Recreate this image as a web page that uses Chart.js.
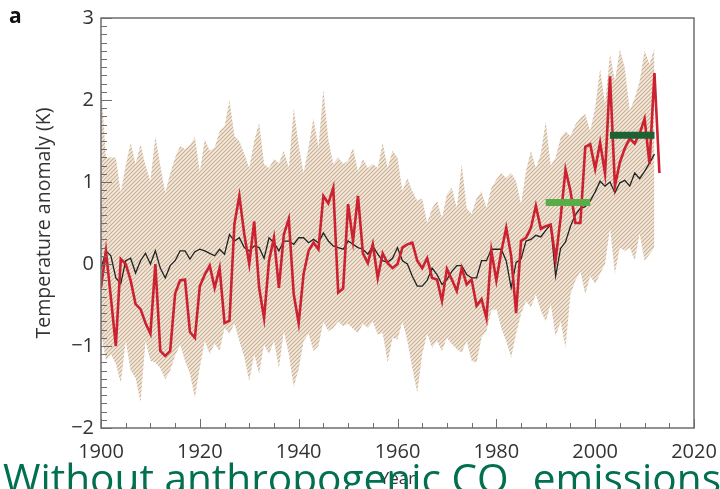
<!DOCTYPE html>
<html>
<head>
<meta charset="utf-8">
<script src="https://cdn.jsdelivr.net/npm/chart.js@4.4.1/dist/chart.umd.min.js"></script>
<style>
  html, body { margin: 0; padding: 0; background: #fff; overflow: hidden; }
  #wrap { position: relative; width: 720px; height: 489px; }
  #panel { position: absolute; left: 9px; top: 5px; font: bold 21px "Open Sans", sans-serif; line-height: 1; color: #111; }
  #caption { position: absolute; left: 3px; top: 457px; font: 41px "Open Sans", sans-serif; line-height: 1;
             color: #007050; white-space: nowrap; transform-origin: 0 0; }
  #caption sub { font-size: 24px; vertical-align: -16px; line-height: 0; }
</style>
</head>
<body>
<div id="wrap">
  <canvas id="tempChart" width="720" height="489"></canvas>
  <div id="panel">a</div>
  <div id="caption">Without anthropogenic CO<sub>2</sub> emissions</div>
</div>
<script>
// First year of every series (one value per year)
const firstYear = 1900;

// Observed anomaly, red line, 1900-2013
const observed = [
  -0.29, 0.16, -0.41, -1.0, 0.06, 0.0, -0.2, -0.49, -0.55, -0.72,
  -0.85, 0.0, -1.06, -1.12, -1.06, -0.36, -0.2, -0.19, -0.83, -0.9,
  -0.27, -0.13, -0.02, -0.29, -0.05, -0.72, -0.69, 0.49, 0.83, 0.36,
  0.0, 0.52, -0.29, -0.66, 0.04, 0.32, -0.29, 0.36, 0.55, -0.37,
  -0.72, -0.12, 0.16, 0.26, 0.18, 0.83, 0.74, 0.93, -0.35, -0.3,
  0.73, 0.28, 0.83, 0.13, 0.01, 0.24, -0.17, 0.13, 0.01, -0.05,
  0.0, 0.2, 0.24, 0.26, 0.04, -0.05, 0.07, -0.17, -0.19, -0.45,
  -0.06, -0.19, -0.33, -0.05, -0.25, -0.19, -0.51, -0.43, -0.66, 0.16,
  -0.2, 0.15, 0.44, 0.1, -0.6, 0.28, 0.32, 0.44, 0.71, 0.43,
  0.46, 0.48, 0.05, 0.56, 1.15, 0.89, 0.5, 0.5, 1.43, 1.46,
  1.16, 1.48, 1.1, 2.29, 0.95, 1.24, 1.41, 1.53, 1.47, 1.59,
  1.77, 1.22, 2.33, 1.11
];

// Model mean, black line, 1900-2012
const modelMean = [
  -0.06, 0.16, 0.1, -0.17, -0.24, 0.04, 0.07, -0.11, 0.04, 0.13,
  0.0, 0.16, -0.05, -0.17, -0.02, 0.04, 0.16, 0.16, 0.06, 0.15,
  0.18, 0.16, 0.13, 0.1, 0.18, 0.12, 0.36, 0.28, 0.32, 0.2,
  0.16, 0.22, 0.2, 0.07, 0.32, 0.26, 0.16, 0.28, 0.28, 0.24,
  0.32, 0.32, 0.26, 0.3, 0.26, 0.38, 0.28, 0.22, 0.2, 0.18,
  0.28, 0.24, 0.2, 0.18, 0.12, 0.22, 0.12, 0.04, 0.02, 0.07,
  0.2, 0.04, 0.0, -0.15, -0.27, -0.27, -0.2, -0.05, -0.13, -0.25,
  -0.19, -0.09, -0.02, -0.02, -0.13, -0.17, -0.17, 0.04, 0.04, 0.18,
  0.18, 0.18, 0.04, -0.29, 0.02, 0.06, 0.28, 0.3, 0.35, 0.33,
  0.41, 0.48, -0.15, 0.19, 0.27, 0.46, 0.6, 0.68, 0.7, 0.77,
  0.88, 1.01, 0.95, 1.0, 0.87, 0.99, 1.02, 0.95, 1.11, 1.04,
  1.13, 1.23, 1.34
];

// Ensemble spread, hatched band, 1900-2012
const spreadUpper = [
  2.2, 1.3, 1.3, 1.3, 0.87, 1.2, 1.48, 1.22, 1.46, 1.2,
  1.01, 1.56, 1.2, 0.87, 1.1, 1.3, 1.44, 1.4, 1.45, 1.55,
  1.12, 1.52, 1.38, 1.42, 1.62, 1.68, 2.0, 1.56, 1.5, 1.34,
  1.17, 1.5, 1.72, 1.22, 1.17, 1.28, 1.23, 1.38, 1.17, 1.9,
  1.45, 1.11, 1.42, 1.78, 1.42, 2.13, 1.52, 1.22, 1.3, 1.22,
  1.26, 1.42, 1.13, 1.28, 1.17, 1.22, 1.17, 1.48, 1.17, 1.38,
  1.3, 0.89, 1.05, 0.89, 0.77, 0.8, 0.5, 0.68, 0.77, 0.56,
  0.85, 0.93, 0.68, 1.22, 0.68, 0.61, 0.8, 0.89, 0.68, 0.93,
  1.03, 1.11, 1.05, 1.11, 1.01, 0.73, 1.13, 1.38, 1.17, 1.34,
  1.74, 1.2, 1.3, 1.54, 1.62, 1.56, 1.7, 1.78, 1.83, 1.62,
  1.91, 2.38, 1.95, 2.56, 2.23, 2.62, 2.39, 1.87, 2.02, 2.23,
  2.6, 2.44, 2.63
];
const spreadLower = [
  -0.82, -1.18, -1.1, -1.22, -1.45, -0.94, -1.3, -1.39, -1.69, -0.94,
  -1.18, -1.2, -1.27, -1.41, -1.3, -1.12, -0.98, -1.18, -1.34, -1.63,
  -1.26, -0.94, -1.1, -0.97, -1.06, -0.78, -0.85, -0.73, -0.94, -1.14,
  -1.43, -1.1, -1.34, -0.98, -1.1, -0.94, -1.27, -0.82, -1.1, -1.5,
  -1.28, -0.94, -0.85, -1.06, -1.0, -0.7, -0.82, -0.78, -0.7, -0.76,
  -0.73, -0.79, -0.84, -0.73, -0.78, -0.7, -0.86, -0.84, -1.2, -0.9,
  -0.92, -0.7, -0.94, -1.27, -1.57, -1.1, -0.85, -1.02, -0.94, -1.06,
  -0.9, -0.98, -1.04, -1.08, -0.94, -1.18, -1.2, -0.9, -0.82, -0.57,
  -0.55, -0.78, -0.94, -1.14, -0.85, -0.61, -0.45, -0.53, -0.37, -0.57,
  -0.7, -0.49, -0.88, -0.7, -1.02, -0.37, -0.2, -0.09, -0.37, -0.15,
  -0.24, -0.12, 0.0, 0.44, -0.12, 0.2, 0.16, 0.2, 0.04, 0.37,
  0.04, 0.12, 0.2
];

// Decade mean bars (start year, end year, value)
const lightBarYears = [1990, 1999];
const lightBarValue = 0.75;
const darkBarYears = [2003, 2012];
const darkBarValue = 1.57;

// Axis ticks
const xTicks = [1900, 1920, 1940, 1960, 1980, 2000, 2020];
const yTicks = [-2, -1, 0, 1, 2, 3];

const toPoints = (values) => values.map((v, i) => ({ x: firstYear + i, y: v }));
const barPoints = (years, value) => years.map(yr => ({ x: yr, y: value }));

// Diagonal hatch for the spread band
function makeHatch() {
    const size = 4;
    const c = document.createElement("canvas");
    c.width = size;
    c.height = size;
    const g = c.getContext("2d");
    g.fillStyle = "#f3eade";
    g.fillRect(0, 0, size, size);
    g.strokeStyle = "#cbad92";
    g.lineWidth = 1.1;
    g.beginPath();
    g.moveTo(-1, size + 1); g.lineTo(size + 1, -1);
    g.moveTo(-1, 1); g.lineTo(1, -1);
    g.moveTo(size - 1, size + 1); g.lineTo(size + 1, size - 1);
    g.stroke();
    return g.createPattern(c, "repeat");
}

// Inward tick marks and the plot frame
const frameTicks = {
    id: "frameTicks",
    afterDatasetsDraw(chart) {
        const { ctx, chartArea: a, scales: { x, y } } = chart;
        ctx.save();
        ctx.strokeStyle = "#6e6e6e";
        ctx.lineWidth = 1;
        ctx.beginPath();
        for (let i = -20; i <= 30; i++) {
            const py = Math.round(y.getPixelForValue(i / 10)) + 0.5;
            const len = i % 10 === 0 ? 11 : 6;
            ctx.moveTo(a.left, py);
            ctx.lineTo(a.left + len, py);
        }
        for (let yr = 1900; yr <= 2020; yr += 5) {
            const px = Math.round(x.getPixelForValue(yr)) + 0.5;
            const len = yr % 20 === 0 ? 9 : 5;
            ctx.moveTo(px, a.bottom);
            ctx.lineTo(px, a.bottom - len);
        }
        ctx.stroke();
        ctx.lineWidth = 1.5;
        ctx.strokeRect(a.left, a.top, a.right - a.left, a.bottom - a.top);
        ctx.restore();
    }
};

const tickFont = { family: "'Open Sans', sans-serif", size: 20 };

new Chart(document.getElementById("tempChart").getContext("2d"), {
    type: "line",
    data: {
        datasets: [
            {
                label: "1990s mean",
                data: barPoints(lightBarYears, lightBarValue),
                borderColor: "#5aac48",
                borderWidth: 7,
                borderCapStyle: "butt",
                pointRadius: 0,
                fill: false,
                order: 0
            },
            {
                label: "2000s mean",
                data: barPoints(darkBarYears, darkBarValue),
                borderColor: "#1e6132",
                borderWidth: 7,
                borderCapStyle: "butt",
                pointRadius: 0,
                fill: false,
                order: 0
            },
            {
                label: "Observed",
                data: toPoints(observed),
                borderColor: "#cb2131",
                borderWidth: 2.6,
                pointRadius: 0,
                tension: 0,
                fill: false,
                order: 1
            },
            {
                label: "Model mean",
                data: toPoints(modelMean),
                borderColor: "#222222",
                borderWidth: 1.3,
                pointRadius: 0,
                tension: 0,
                fill: false,
                order: 2
            },
            {
                label: "Spread upper",
                data: toPoints(spreadUpper),
                borderWidth: 0,
                borderColor: "rgba(0,0,0,0)",
                backgroundColor: makeHatch(),
                pointRadius: 0,
                fill: "+1",
                order: 3
            },
            {
                label: "Spread lower",
                data: toPoints(spreadLower),
                borderWidth: 0,
                borderColor: "rgba(0,0,0,0)",
                pointRadius: 0,
                fill: false,
                order: 4
            }
        ]
    },
    options: {
        responsive: false,
        animation: false,
        layout: { padding: { top: 18, right: 26, left: 0, bottom: 0 } },
        plugins: {
            legend: { display: false },
            tooltip: { enabled: false }
        },
        scales: {
            x: {
                type: "linear",
                min: 1900,
                max: 2020,
                afterFit: (s) => { s.height = 61; s.paddingLeft = 0; s.paddingRight = 0; },
                afterBuildTicks: (s) => { s.ticks = xTicks.map(v => ({ value: v })); },
                grid: { display: false, drawTicks: false },
                border: { display: false },
                ticks: {
                    padding: 12,
                    color: "#333333",
                    font: tickFont,
                    maxRotation: 0,
                    callback: (v) => String(v)
                },
                title: {
                    display: true,
                    text: "Year",
                    color: "#333333",
                    font: { family: "'Open Sans', sans-serif", size: 17 },
                    padding: { top: 0, bottom: 0 }
                }
            },
            y: {
                min: -2,
                max: 3,
                afterFit: (s) => { s.width = 101; s.paddingTop = 0; s.paddingBottom = 0; },
                afterBuildTicks: (s) => { s.ticks = yTicks.map(v => ({ value: v })); },
                grid: { display: false, drawTicks: false },
                border: { display: false },
                ticks: {
                    padding: 7,
                    color: "#333333",
                    font: tickFont,
                    callback: (v) => String(v).replace("-", "\u2212")
                },
                title: {
                    display: true,
                    text: "Temperature anomaly (K)",
                    color: "#333333",
                    font: { family: "'Open Sans', sans-serif", size: 19.5 },
                    padding: { top: 33, bottom: 0 }
                }
            }
        }
    },
    plugins: [frameTicks]
});

// Stretch the caption to the slide width
const caption = document.getElementById("caption");
const capWidth = caption.getBoundingClientRect().width;
caption.style.transform = "scaleX(" + (718 / capWidth) + ")";
</script>
</body>
</html>
